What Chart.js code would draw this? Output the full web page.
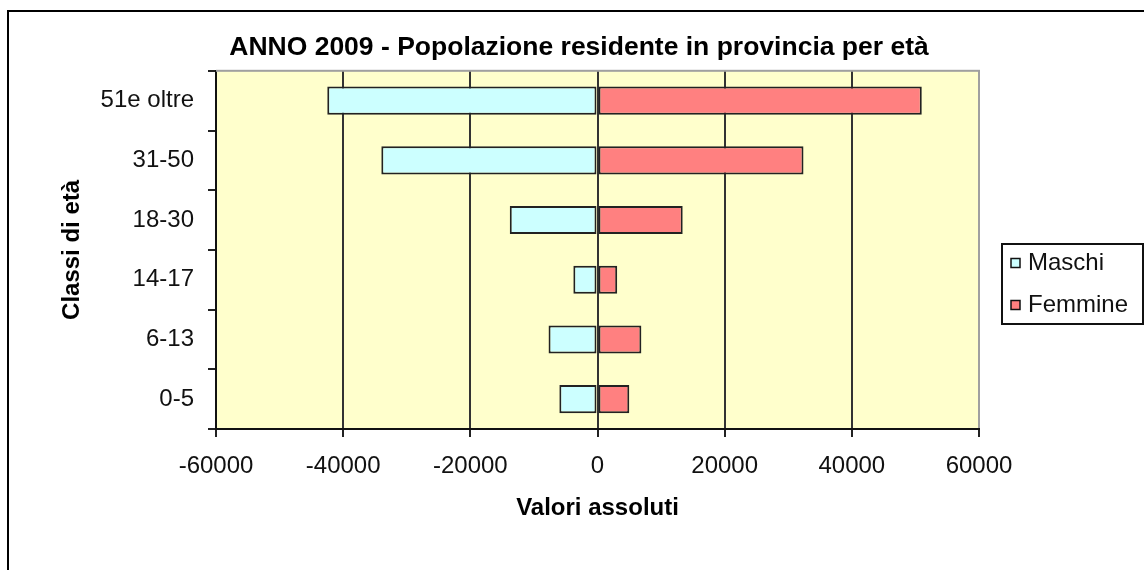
<!DOCTYPE html>
<html>
<head>
<meta charset="utf-8">
<script src="https://cdn.jsdelivr.net/npm/chart.js@4.4.1/dist/chart.umd.min.js"></script>
<style>
  html, body { margin: 0; padding: 0; background: #fff; }
  #wrap { width: 1144px; height: 570px; position: relative; }
</style>
</head>
<body>
<div id="wrap"><canvas id="myChart"></canvas></div>
<script>
// data
const categories = ['51e oltre', '31-50', '18-30', '14-17', '6-13', '0-5'];
const maschi = [-42500, -34000, -13800, -3800, -7700, -6000];
const femmine = [51000, 32400, 13400, 3100, 6900, 5000];
const seriesNames = ['Maschi', 'Femmine'];
const xMin = -60000;
const xMax = 60000;
const xStep = 20000;

const FONT = '"Liberation Sans", Arial, sans-serif';
Chart.defaults.font.family = FONT;
Chart.defaults.color = '#111';

// plot background + outer frame
const backdrop = {
  id: 'backdrop',
  beforeDraw(chart) {
    const {ctx, chartArea: a} = chart;
    ctx.save();
    ctx.fillStyle = '#fff';
    ctx.fillRect(0, 0, chart.width, chart.height);
    ctx.fillStyle = '#FFFFCC';
    ctx.fillRect(a.left, a.top, a.right - a.left, a.bottom - a.top);
    ctx.restore();
  },
  beforeDatasetsDraw(chart) {
    const {ctx, chartArea: a} = chart;
    ctx.save();
    ctx.fillStyle = '#a0a0a0';
    ctx.fillRect(a.left, a.top - 1, a.right - a.left + 1, 2);
    ctx.restore();
  },
  afterDraw(chart) {
    const ctx = chart.ctx;
    ctx.save();
    ctx.fillStyle = '#000';
    ctx.fillRect(7, 10, 2, chart.height - 10);
    ctx.fillRect(7, 10, chart.width - 7, 2);
    ctx.restore();
  }
};

// legend on the right, as a fixed-width layout box
function drawSideLegend(chart, box) {
  const ctx = chart.ctx;
  const x0 = box.left + 22;
  ctx.save();
  ctx.strokeStyle = '#111';
  ctx.lineWidth = 2;
  ctx.strokeRect(x0 + 1, 244, 141, 80);
  ctx.font = '24px ' + FONT;
  ctx.textBaseline = 'middle';
  chart.data.datasets.forEach((ds, i) => {
    const cy = 263 + i * 42;
    ctx.fillStyle = ds.backgroundColor;
    ctx.fillRect(x0 + 10, cy - 4.5, 9, 9);
    ctx.lineWidth = 1.5;
    ctx.strokeStyle = '#111';
    ctx.strokeRect(x0 + 10, cy - 4.5, 9, 9);
    ctx.fillStyle = '#111';
    ctx.fillText(ds.label, x0 + 27, cy);
  });
  ctx.restore();
}

const sideLegend = {
  id: 'sideLegend',
  beforeInit(chart) {
    const box = {
      position: 'right',
      weight: 100,
      fullSize: false,
      options: {},
      isHorizontal() { return false; },
      update(maxWidth, maxHeight) {
        this.width = 165;
        this.height = maxHeight;
      },
      draw() { drawSideLegend(chart, box); }
    };
    Chart.layouts.addBox(chart, box);
  }
};

const ctx = document.getElementById('myChart').getContext('2d');
const myChart = new Chart(ctx, {
  type: 'bar',
  data: {
    labels: categories,
    datasets: [
      {
        label: seriesNames[0],
        data: maschi,
        backgroundColor: '#CCFFFF',
        borderColor: '#222',
        borderWidth: 2,
        borderSkipped: false
      },
      {
        label: seriesNames[1],
        data: femmine,
        backgroundColor: '#FF8080',
        borderColor: '#222',
        borderWidth: 2,
        borderSkipped: false
      }
    ]
  },
  options: {
    indexAxis: 'y',
    responsive: true,
    maintainAspectRatio: false,
    animation: false,
    datasets: {
      bar: { categoryPercentage: 1, barPercentage: 0.47 }
    },
    layout: { padding: { top: 14, left: 14, right: 0, bottom: 0 } },
    plugins: {
      legend: { display: false },
      tooltip: { enabled: false },
      title: {
        display: true,
        text: 'ANNO 2009 - Popolazione residente in provincia per età',
        color: '#000',
        font: { size: 26.5, weight: 'bold' },
        padding: { top: 18, bottom: 7 }
      }
    },
    scales: {
      x: {
        stacked: true,
        min: xMin,
        max: xMax,
        ticks: {
          stepSize: xStep,
          color: '#111',
          font: { size: 24 },
          padding: 15,
          maxRotation: 0,
          autoSkip: false,
          callback: v => String(v)
        },
        grid: {
          color: c => (c.tick && c.tick.value === xMax) ? '#a0a0a0' : '#333',
          lineWidth: 2,
          tickLength: 8,
          tickColor: '#222',
          tickWidth: 2
        },
        border: { color: '#111', width: 2 },
        title: {
          display: true,
          text: 'Valori assoluti',
          color: '#000',
          font: { size: 24, weight: 'bold' },
          padding: { top: 0, bottom: 47 }
        },
        afterFit(scale) { scale.height = 141; }
      },
      y: {
        stacked: true,
        ticks: { color: '#111', font: { size: 24 }, padding: 14 },
        grid: {
          offset: true,
          drawOnChartArea: false,
          tickLength: 8,
          color: '#222',
          lineWidth: 2
        },
        border: { color: '#111', width: 2 },
        title: {
          display: true,
          text: 'Classi di età',
          color: '#000',
          font: { size: 24, weight: 'bold' },
          padding: { top: 44, bottom: 0 }
        },
        afterFit(scale) { scale.width = 202; }
      }
    }
  },
  plugins: [backdrop, sideLegend]
});
</script>
</body>
</html>
